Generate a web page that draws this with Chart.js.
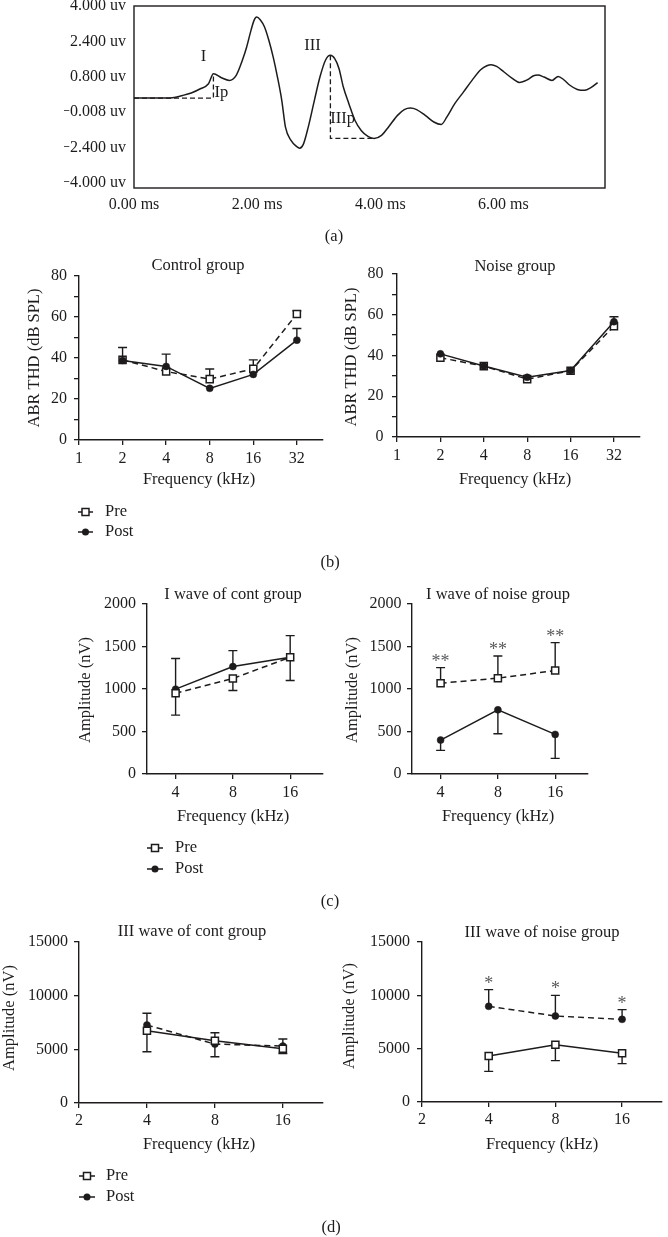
<!DOCTYPE html>
<html>
<head>
<meta charset="utf-8">
<script src="https://cdn.jsdelivr.net/npm/chart.js@4.4.1/dist/chart.umd.min.js"></script>
<style>
html,body{margin:0;padding:0;background:#fff;}
#wrap{position:relative;width:668px;height:1237px;overflow:hidden;background:#fff;}
#wrap canvas{position:absolute;left:0;top:0;}
</style>
</head>
<body>
<div id="wrap">
<canvas id="cA" width="668" height="1237"></canvas>
<canvas id="cBL" width="668" height="1237"></canvas>
<canvas id="cBR" width="668" height="1237"></canvas>
<canvas id="cCL" width="668" height="1237"></canvas>
<canvas id="cCR" width="668" height="1237"></canvas>
<canvas id="cDL" width="668" height="1237"></canvas>
<canvas id="cDR" width="668" height="1237"></canvas>
</div>
<script>
// ---------------- DATA ----------------
// (a) ABR waveform
const waveTime = [0,0.59,0.79,0.93,1.07,1.21,1.29,1.42,1.55,1.66,1.76,1.83,1.90,1.95,1.99,2.05,2.12,2.19,2.26,2.33,2.40,2.46,2.55,2.64,2.69,2.75,2.83,2.93,3.02,3.11,3.19,3.26,3.33,3.40,3.49,3.59,3.69,3.80,3.90,4.02,4.14,4.28,4.39,4.49,4.59,4.73,4.87,4.99,5.08,5.21,5.35,5.49,5.63,5.73,5.80,5.89,6.01,6.15,6.26,6.39,6.49,6.56,6.66,6.79,6.89,6.98,7.08,7.20,7.32,7.42,7.53];
const waveAmp = [-0.16,-0.15,-0.04,0.07,0.25,0.49,0.94,0.76,0.64,0.87,1.55,2.15,2.90,3.35,3.50,3.38,3.05,2.45,1.70,0.79,-0.26,-1.47,-2.07,-2.34,-2.42,-2.25,-1.47,-0.26,0.79,1.55,1.77,1.62,1.17,0.34,-0.41,-1.17,-1.62,-1.89,-1.98,-1.84,-1.44,-0.94,-0.68,-0.61,-0.68,-0.94,-1.24,-1.35,-1.02,-0.41,0.11,0.64,1.12,1.30,1.35,1.27,1.02,0.72,0.55,0.67,0.85,0.88,0.79,0.64,0.82,0.67,0.42,0.23,0.19,0.31,0.54];
const ipTime = [0, 1.29, 1.29];
const ipAmp = [-0.16, -0.16, 0.94];
const iiipTime = [3.19, 3.19, 3.90];
const iiipAmp = [1.77, -1.98, -1.98];
const waveYTicks = [4, 2.4, 0.8, -0.8, -2.4, -4];
const waveYLabels = ["4.000 uv","2.400 uv","0.800 uv","\u22120.008 uv","\u22122.400 uv","\u22124.000 uv"];
const waveXTicks = [0, 2, 4, 6];
const waveXLabels = ["0.00 ms","2.00 ms","4.00 ms","6.00 ms"];
const waveNotes = ["I", "Ip", "III", "IIIp"];
const waveNoteTime = [1.13, 1.42, 2.90, 3.39];
const waveNoteAmp = [1.70, 0.07, 2.19, -1.09];

// (b) ABR threshold
const thdFreq = [2, 4, 8, 16, 32];
const thdXTicks = [1, 2, 4, 8, 16, 32];
const thdXLabels = ["1","2","4","8","16","32"];
const thdYTicks = [0,10,20,30,40,50,60,70,80];
const thdYLabels = ["0","","20","","40","","60","","80"];
const ctrlThdPre = [39.1, 33.4, 29.7, 34.7, 61.5];
const ctrlThdPreUp = [45.1, null, 34.6, 39.1, 63.0];
const ctrlThdPost = [38.8, 35.9, 25.2, 32.0, 48.7];
const ctrlThdPostUp = [null, 41.9, null, null, 54.4];
const noiseThdPre = [38.9, 34.8, 28.4, 32.5, 54.4];
const noiseThdPost = [40.8, 34.8, 29.3, 32.6, 56.6];
const noiseThdPostUp = [null, null, null, null, 59.0];

// (c) I wave amplitude
const ampFreq = [4, 8, 16];
const ampXLabels = ["4","8","16"];
const ampIYTicks = [0, 500, 1000, 1500, 2000];
const ampIYLabels = ["0","500","1000","1500","2000"];
const contIPre = [951, 1123, 1374];
const contIPreLow = [693, 982, 1100];
const contIPost = [998, 1264, 1374];
const contIPostUp = [1358, 1452, 1628];
const noiseIPre = [1068, 1127, 1217];
const noiseIPreUp = [1252, 1389, 1546];
const noiseIPost = [399, 755, 466];
const noiseIPostLow = [278, 474, 184];
const noiseIStars = ["**", "**", "**"];

// (d) III wave amplitude
const ampIIIXTicks = [2, 4, 8, 16];
const ampIIIXLabels = ["2","4","8","16"];
const ampIIIYTicks = [0, 5000, 10000, 15000];
const ampIIIYLabels = ["0","5000","10000","15000"];
const contIIIPre = [6735, 5800, 5051];
const contIIIPreUp = [null, 6548, null];
const contIIIPreLow = [4771, null, 4615];
const contIIIPost = [7265, 5488, 5301];
const contIIIPostUp = [8357, null, 5956];
const contIIIPostLow = [null, 4303, null];
const noiseIIIPre = [4313, 5375, 4563];
const noiseIIIPreLow = [2875, 3875, 3594];
const noiseIIIPost = [8969, 8063, 7750];
const noiseIIIPostUp = [10531, 10000, 8656];
const noiseIIIStars = ["*", "*", "*"];

// ---------------- STYLE / HELPERS ----------------
const INK = '#1e1b1c';
const FONT = '"Liberation Serif", "Times New Roman", serif';
const W = 668, H = 1237;

const overlay = {
  id: 'overlay',
  beforeDatasetsDraw(chart) {
    const ctx = chart.ctx, xs = chart.scales.x, ys = chart.scales.y;
    ctx.save();
    ctx.strokeStyle = INK; ctx.lineWidth = 1.4; ctx.setLineDash([]);
    chart.data.datasets.forEach(ds => {
      ds.data.forEach((p, j) => {
        const x = xs.getPixelForValue(p.x), y0 = ys.getPixelForValue(p.y);
        [ds.errUp, ds.errLow].forEach(arr => {
          if (!arr || arr[j] == null) return;
          const y1 = ys.getPixelForValue(arr[j]);
          ctx.beginPath();
          ctx.moveTo(x, y0); ctx.lineTo(x, y1);
          ctx.moveTo(x - 4.5, y1); ctx.lineTo(x + 4.5, y1);
          ctx.stroke();
        });
      });
    });
    ctx.restore();
  },
  afterDatasetsDraw(chart) {
    const ctx = chart.ctx, xs = chart.scales.x, ys = chart.scales.y;
    ctx.save();
    ctx.fillStyle = '#58595b';
    ctx.font = '18px ' + FONT;
    ctx.textAlign = 'center'; ctx.textBaseline = 'alphabetic';
    chart.data.datasets.forEach(ds => {
      if (!ds.stars) return;
      ds.data.forEach((p, j) => {
        const top = ds.errUp && ds.errUp[j] != null ? ds.errUp[j] : p.y;
        ctx.fillText(ds.stars[j], xs.getPixelForValue(p.x), ys.getPixelForValue(top) - 1);
      });
    });
    ctx.restore();
  },
  afterDraw(chart, args, o) {
    const ctx = chart.ctx, a = chart.chartArea;
    ctx.save();
    if (o.frame) {
      ctx.strokeStyle = INK; ctx.lineWidth = 1.4;
      ctx.strokeRect(a.left, a.top, a.right - a.left, a.bottom - a.top);
    }
    ctx.fillStyle = INK;
    ctx.font = '16.5px ' + FONT;
    ctx.textBaseline = 'middle';
    (o.texts || []).forEach(t => {
      let x = t.x, y = t.y;
      if (t.data) { x = chart.scales.x.getPixelForValue(t.x); y = chart.scales.y.getPixelForValue(t.y); }
      ctx.textAlign = t.align || 'center';
      if (t.rot) {
        ctx.save(); ctx.translate(x, y); ctx.rotate(-Math.PI / 2);
        ctx.fillText(t.text, 0, 0); ctx.restore();
      } else ctx.fillText(t.text, x, y);
    });
    if (o.legend) {
      const L = o.legend;
      chart.data.datasets.filter(d => d.label).sort((p, q) => p.legendIndex - q.legendIndex).forEach((d, i) => {
        const y = L.y + i * L.dy;
        ctx.strokeStyle = INK; ctx.lineWidth = 1.5; ctx.setLineDash([]);
        ctx.beginPath(); ctx.moveTo(L.x0, y); ctx.lineTo(L.x1, y); ctx.stroke();
        const cx = (L.x0 + L.x1) / 2;
        if (d.pointStyle === 'rect') {
          ctx.fillStyle = '#fff'; ctx.fillRect(cx - 3.5, y - 3.5, 7, 7);
          ctx.lineWidth = 1.5; ctx.strokeRect(cx - 3.5, y - 3.5, 7, 7);
        } else {
          ctx.fillStyle = INK; ctx.beginPath(); ctx.arc(cx, y, 3.5, 0, Math.PI * 2); ctx.fill();
        }
        ctx.fillStyle = INK; ctx.textAlign = 'left';
        ctx.fillText(d.label, L.tx, y);
      });
    }
    ctx.restore();
  }
};
Chart.register(overlay);

function pts(xs, ys) { return xs.map((x, i) => ({ x: x, y: ys[i] })); }

function axis(type, min, max, tickVals, tickLabels, pad, showTicks) {
  return {
    type: type, min: min, max: max,
    afterBuildTicks: s => { s.ticks = tickVals.map(v => ({ value: v })); },
    ticks: { callback: (v, i) => tickLabels[i], padding: pad, autoSkip: false, maxRotation: 0, color: INK, font: { size: 16, family: FONT } },
    grid: { display: showTicks, drawOnChartArea: false, drawTicks: showTicks, tickLength: 5, color: INK, lineWidth: 1.3 },
    border: { display: showTicks, color: INK, width: 1.4 }
  };
}

function series(label, xs, ys, o) {
  const pre = o.kind === 'pre';
  return Object.assign({
    label: label,
    data: pts(xs, ys),
    borderColor: INK, borderWidth: 1.5,
    borderDash: o.dashed ? [6, 4] : [],
    pointStyle: pre ? 'rect' : 'circle',
    pointRadius: pre ? 5 : 3.5,
    pointBorderWidth: pre ? 1.5 : 0.5,
    pointBackgroundColor: pre ? '#fff' : INK,
    pointBorderColor: INK,
    tension: 0, fill: false,
    legendIndex: pre ? 0 : 1
  }, o.extra || {});
}

function build(id, area, yW, xH, xScale, yScale, datasets, ov) {
  xScale.afterFit = s => { s.height = xH; s.paddingLeft = 0; s.paddingRight = 0; };
  yScale.afterFit = s => { s.width = yW; s.paddingTop = 0; s.paddingBottom = 0; };
  return new Chart(document.getElementById(id), {
    type: 'line',
    data: { datasets: datasets },
    options: {
      responsive: false, animation: false, events: [],
      layout: { padding: { left: area.l - yW, top: area.t, right: W - area.r, bottom: H - area.b - xH } },
      plugins: { legend: { display: false }, tooltip: { enabled: false }, overlay: ov },
      scales: { x: xScale, y: yScale }
    }
  });
}

// ---------------- (a) ----------------
build('cA', { l: 134, t: 6, r: 605, b: 188 }, 70, 45,
  axis('linear', 0, 7.65, waveXTicks, waveXLabels, 7, false),
  axis('linear', -4.22, 4, waveYTicks, waveYLabels, 8, false),
  [
    { data: pts(waveTime, waveAmp), borderColor: INK, borderWidth: 1.5, pointRadius: 0, cubicInterpolationMode: 'monotone', fill: false },
    { data: pts(ipTime, ipAmp), borderColor: INK, borderWidth: 1.3, borderDash: [5, 3], pointRadius: 0, tension: 0, fill: false },
    { data: pts(iiipTime, iiipAmp), borderColor: INK, borderWidth: 1.3, borderDash: [5, 3], pointRadius: 0, tension: 0, fill: false }
  ],
  {
    frame: true,
    texts: waveNotes.map((t, i) => ({ text: t, x: waveNoteTime[i], y: waveNoteAmp[i], data: true }))
      .concat([{ text: '(a)', x: 334, y: 237 }])
  });

// ---------------- (b) ----------------
build('cBL', { l: 79, t: 276, r: 323, b: 440 }, 60, 40,
  axis('logarithmic', 1, 48.5, thdXTicks, thdXLabels, 4.5, true),
  axis('linear', 0, 80, thdYTicks, thdYLabels, 7, true),
  [
    series('Pre', thdFreq, ctrlThdPre, { kind: 'pre', dashed: true, extra: { errUp: ctrlThdPreUp, order: 1 } }),
    series('Post', thdFreq, ctrlThdPost, { kind: 'post', dashed: false, extra: { errUp: ctrlThdPostUp, order: 0 } })
  ],
  {
    texts: [
      { text: 'Control group', x: 198, y: 266 },
      { text: 'ABR THD (dB SPL)', x: 35, y: 358, rot: true },
      { text: 'Frequency (kHz)', x: 199, y: 480 },
      { text: '(b)', x: 330, y: 563 }
    ],
    legend: { x0: 78, x1: 93, y: 512, dy: 20, tx: 105 }
  });

build('cBR', { l: 397, t: 274, r: 640, b: 437 }, 60, 40,
  axis('logarithmic', 1, 48.5, thdXTicks, thdXLabels, 4.5, true),
  axis('linear', 0, 80, thdYTicks, thdYLabels, 8.5, true),
  [
    series('Pre', thdFreq, noiseThdPre, { kind: 'pre', dashed: true, extra: { order: 1 } }),
    series('Post', thdFreq, noiseThdPost, { kind: 'post', dashed: false, extra: { errUp: noiseThdPostUp, order: 0 } })
  ],
  {
    texts: [
      { text: 'Noise group', x: 515, y: 267 },
      { text: 'ABR THD (dB SPL)', x: 352, y: 357, rot: true },
      { text: 'Frequency (kHz)', x: 515, y: 480 }
    ]
  });

// ---------------- (c) ----------------
build('cCL', { l: 147, t: 604, r: 323, b: 774 }, 60, 40,
  axis('logarithmic', 2.83, 23.8, ampFreq, ampXLabels, 4, true),
  axis('linear', 0, 2000, ampIYTicks, ampIYLabels, 6, true),
  [
    series('Pre', ampFreq, contIPre, { kind: 'pre', dashed: true, extra: { errLow: contIPreLow, order: 0 } }),
    series('Post', ampFreq, contIPost, { kind: 'post', dashed: false, extra: { errUp: contIPostUp, order: 1 } })
  ],
  {
    texts: [
      { text: 'I wave of cont group', x: 233, y: 595 },
      { text: 'Amplitude (nV)', x: 86, y: 690, rot: true },
      { text: 'Frequency (kHz)', x: 233, y: 817 },
      { text: '(c)', x: 330, y: 902 }
    ],
    legend: { x0: 147, x1: 163, y: 848, dy: 21, tx: 175 }
  });

build('cCR', { l: 412, t: 604, r: 588, b: 774 }, 60, 40,
  axis('logarithmic', 2.83, 23.8, ampFreq, ampXLabels, 4, true),
  axis('linear', 0, 2000, ampIYTicks, ampIYLabels, 5.5, true),
  [
    series('Pre', ampFreq, noiseIPre, { kind: 'pre', dashed: true, extra: { errUp: noiseIPreUp, stars: noiseIStars, order: 0 } }),
    series('Post', ampFreq, noiseIPost, { kind: 'post', dashed: false, extra: { errLow: noiseIPostLow, order: 1 } })
  ],
  {
    texts: [
      { text: 'I wave of noise group', x: 498, y: 595 },
      { text: 'Amplitude (nV)', x: 353, y: 690, rot: true },
      { text: 'Frequency (kHz)', x: 498, y: 817 }
    ]
  });

// ---------------- (d) ----------------
build('cDL', { l: 79, t: 942, r: 323, b: 1103 }, 60, 40,
  axis('logarithmic', 2, 24.1, ampIIIXTicks, ampIIIXLabels, 3.5, true),
  axis('linear', 0, 15000, ampIIIYTicks, ampIIIYLabels, 6, true),
  [
    series('Pre', ampFreq, contIIIPre, { kind: 'pre', dashed: false, extra: { errUp: contIIIPreUp, errLow: contIIIPreLow, order: 0 } }),
    series('Post', ampFreq, contIIIPost, { kind: 'post', dashed: true, extra: { errUp: contIIIPostUp, errLow: contIIIPostLow, order: 1 } })
  ],
  {
    texts: [
      { text: 'III wave of cont group', x: 192, y: 932 },
      { text: 'Amplitude (nV)', x: 10, y: 1018, rot: true },
      { text: 'Frequency (kHz)', x: 199, y: 1145 },
      { text: '(d)', x: 331, y: 1228 }
    ],
    legend: { x0: 79, x1: 95, y: 1176, dy: 21, tx: 106 }
  });

build('cDR', { l: 422, t: 942, r: 666, b: 1102 }, 60, 40,
  axis('logarithmic', 2, 24.1, ampIIIXTicks, ampIIIXLabels, 3.5, true),
  axis('linear', 0, 15000, ampIIIYTicks, ampIIIYLabels, 7, true),
  [
    series('Pre', ampFreq, noiseIIIPre, { kind: 'pre', dashed: false, extra: { errLow: noiseIIIPreLow, order: 0 } }),
    series('Post', ampFreq, noiseIIIPost, { kind: 'post', dashed: true, extra: { errUp: noiseIIIPostUp, stars: noiseIIIStars, order: 1 } })
  ],
  {
    texts: [
      { text: 'III wave of noise group', x: 542, y: 933 },
      { text: 'Amplitude (nV)', x: 350, y: 1016, rot: true },
      { text: 'Frequency (kHz)', x: 542, y: 1145 }
    ]
  });
</script>
</body>
</html>
